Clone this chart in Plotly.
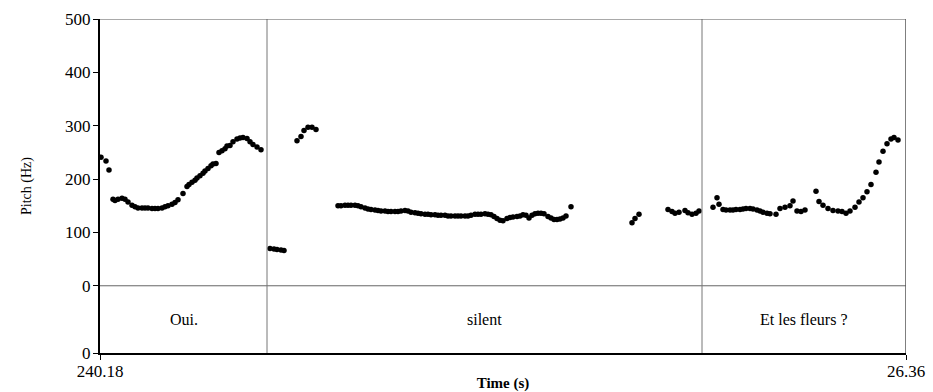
import plotly.graph_objects as go

# ---- data (time in s from start of excerpt, pitch in Hz) ----
oui_t = [0.002, 0.012, 0.018, 0.026, 0.030, 0.036, 0.044, 0.050, 0.056, 0.064, 0.070, 0.076,
         0.084, 0.090, 0.096, 0.104, 0.110, 0.116, 0.124, 0.130, 0.136, 0.144, 0.150, 0.156,
         0.166, 0.174, 0.178, 0.184, 0.190, 0.194, 0.200, 0.206, 0.210, 0.216, 0.222, 0.226,
         0.232, 0.238, 0.244, 0.250, 0.254, 0.260, 0.266, 0.274, 0.280, 0.286, 0.294, 0.300,
         0.306, 0.314, 0.322]
oui_f0 = [241, 234, 217, 162, 160, 162, 164, 162, 157, 151, 148, 146,
          146, 146, 146, 145, 145, 145, 146, 148, 150, 153, 156, 161,
          173, 186, 190, 194, 198, 202, 206, 211, 215, 220, 225, 228,
          229, 250, 253, 257, 262, 263, 270, 275, 277, 278, 276, 270,
          265, 260, 255]

silent_t = [0.340, 0.348, 0.354, 0.362, 0.368,
            0.394, 0.402, 0.408, 0.416, 0.424, 0.432,
            0.476, 0.482, 0.490, 0.496, 0.502, 0.510, 0.516, 0.522, 0.530, 0.536, 0.542,
            0.550, 0.556, 0.562, 0.570, 0.576, 0.582, 0.590, 0.596, 0.602, 0.610, 0.616,
            0.622, 0.630, 0.636, 0.642, 0.650, 0.656, 0.662, 0.670, 0.676, 0.682, 0.690,
            0.696, 0.702, 0.710, 0.716, 0.722, 0.730, 0.736, 0.742, 0.750, 0.756, 0.762,
            0.770, 0.776, 0.782, 0.788, 0.794, 0.800, 0.806, 0.814, 0.820, 0.826, 0.834,
            0.840, 0.846, 0.852, 0.858, 0.864, 0.870, 0.876, 0.882, 0.888, 0.896, 0.902,
            0.908, 0.914, 0.920, 0.926, 0.932, 0.942,
            1.064, 1.070, 1.078,
            1.136, 1.144, 1.150, 1.158, 1.170, 1.176, 1.184, 1.192, 1.198]
silent_f0 = [70, 69, 68, 67, 66,
             272, 280, 291, 297, 297, 293,
             150, 150, 151, 151, 151, 151, 150, 148, 146, 144, 143,
             142, 141, 140, 140, 139, 139, 139, 139, 140, 141, 140,
             138, 137, 136, 135, 134, 134, 133, 133, 132, 132, 132,
             131, 131, 131, 131, 131, 131, 131, 132, 134, 134, 134,
             135, 134, 133, 130, 126, 123, 122, 126, 128, 129, 130,
             131, 133, 132, 127, 132, 135, 136, 136, 135, 130, 127,
             124, 124, 125, 127, 131, 148,
             118, 126, 134,
             143, 139, 136, 138, 141, 137, 134, 136, 140]

fleurs_t = [1.226, 1.234, 1.238, 1.246, 1.252, 1.260, 1.266, 1.272, 1.280, 1.286, 1.292,
            1.300, 1.306, 1.314, 1.320, 1.326, 1.334, 1.340, 1.352, 1.360, 1.370, 1.380,
            1.386, 1.394, 1.402, 1.410, 1.432, 1.438, 1.446, 1.456, 1.466, 1.476, 1.484,
            1.492, 1.500, 1.510, 1.518, 1.526, 1.534, 1.542, 1.552, 1.558, 1.566, 1.574,
            1.582, 1.588, 1.596]
fleurs_f0 = [147, 165, 153, 143, 142, 142, 142, 143, 143, 144, 145,
             145, 144, 142, 140, 138, 136, 135, 134, 145, 147, 150,
             159, 140, 139, 142, 177, 158, 151, 145, 141, 140, 139,
             136, 140, 147, 157, 165, 176, 190, 213, 232, 252, 266,
             275, 278, 273]

interval_bounds = [0.0, 0.334, 1.204, 1.612]
interval_labels = ["Oui.", "silent", "Et les fleurs ?"]

x_tick_vals = [0.0, 1.612]
x_tick_text = ["240.18", "26.36"]
tier_bottom = -126
y_tick_vals = [tier_bottom, 0, 100, 200, 300, 400, 500]
y_tick_text = ["0", "0", "100", "200", "300", "400", "500"]

FONT = "Liberation Serif"

fig = go.Figure()
for tt, ff, name in [(oui_t, oui_f0, "Oui."), (silent_t, silent_f0, "silent"),
                     (fleurs_t, fleurs_f0, "Et les fleurs ?")]:
    fig.add_trace(go.Scatter(x=tt, y=ff, mode="markers", name=name,
                             marker=dict(color="black", size=5.5, line=dict(width=0)),
                             showlegend=False, hoverinfo="x+y"))

shapes = []
# tier separator at 0 Hz
shapes.append(dict(type="line", xref="x", yref="y", x0=interval_bounds[0], x1=interval_bounds[-1],
                   y0=0, y1=0, line=dict(color="#666666", width=1)))
# interval boundaries
for b in interval_bounds[1:-1]:
    shapes.append(dict(type="line", xref="x", yref="y", x0=b, x1=b, y0=tier_bottom, y1=500,
                       line=dict(color="#777777", width=1)))
# frame top and right
shapes.append(dict(type="line", xref="x", yref="y", x0=interval_bounds[0], x1=interval_bounds[-1],
                   y0=500, y1=500, line=dict(color="#555555", width=1.2)))
shapes.append(dict(type="line", xref="x", yref="y", x0=interval_bounds[-1], x1=interval_bounds[-1],
                   y0=tier_bottom, y1=500, line=dict(color="#555555", width=1.5)))

annotations = []
for i, lab in enumerate(interval_labels):
    annotations.append(dict(x=(interval_bounds[i] + interval_bounds[i + 1]) / 2, y=tier_bottom / 2,
                            xref="x", yref="y", text=lab, showarrow=False,
                            font=dict(family=FONT, size=16, color="black")))

fig.update_layout(
    width=933, height=392,
    margin=dict(l=100, r=27, t=19, b=39),
    paper_bgcolor="white", plot_bgcolor="white",
    font=dict(family=FONT, color="black"),
    shapes=shapes, annotations=annotations,
    xaxis=dict(range=[interval_bounds[0], interval_bounds[-1]], tickvals=x_tick_vals,
               ticktext=x_tick_text, ticks="outside", ticklen=5, tickcolor="black",
               showline=True, linecolor="black", linewidth=2, showgrid=False, zeroline=False,
               automargin=False, tickfont=dict(family=FONT, size=17), ticklabelstandoff=-3,
               title=dict(text="<b>Time (s)</b>", font=dict(family=FONT, size=15), standoff=0)),
    yaxis=dict(range=[tier_bottom, 500], tickvals=y_tick_vals, ticktext=y_tick_text,
               ticks="outside", ticklen=5, tickcolor="black",
               showline=True, linecolor="black", linewidth=2, showgrid=False, zeroline=False,
               automargin=False, tickfont=dict(family=FONT, size=17), ticklabelstandoff=-1,
               title=dict(text="Pitch (Hz)", font=dict(family=FONT, size=14), standoff=30)),
)

fig.write_html("out.html")
